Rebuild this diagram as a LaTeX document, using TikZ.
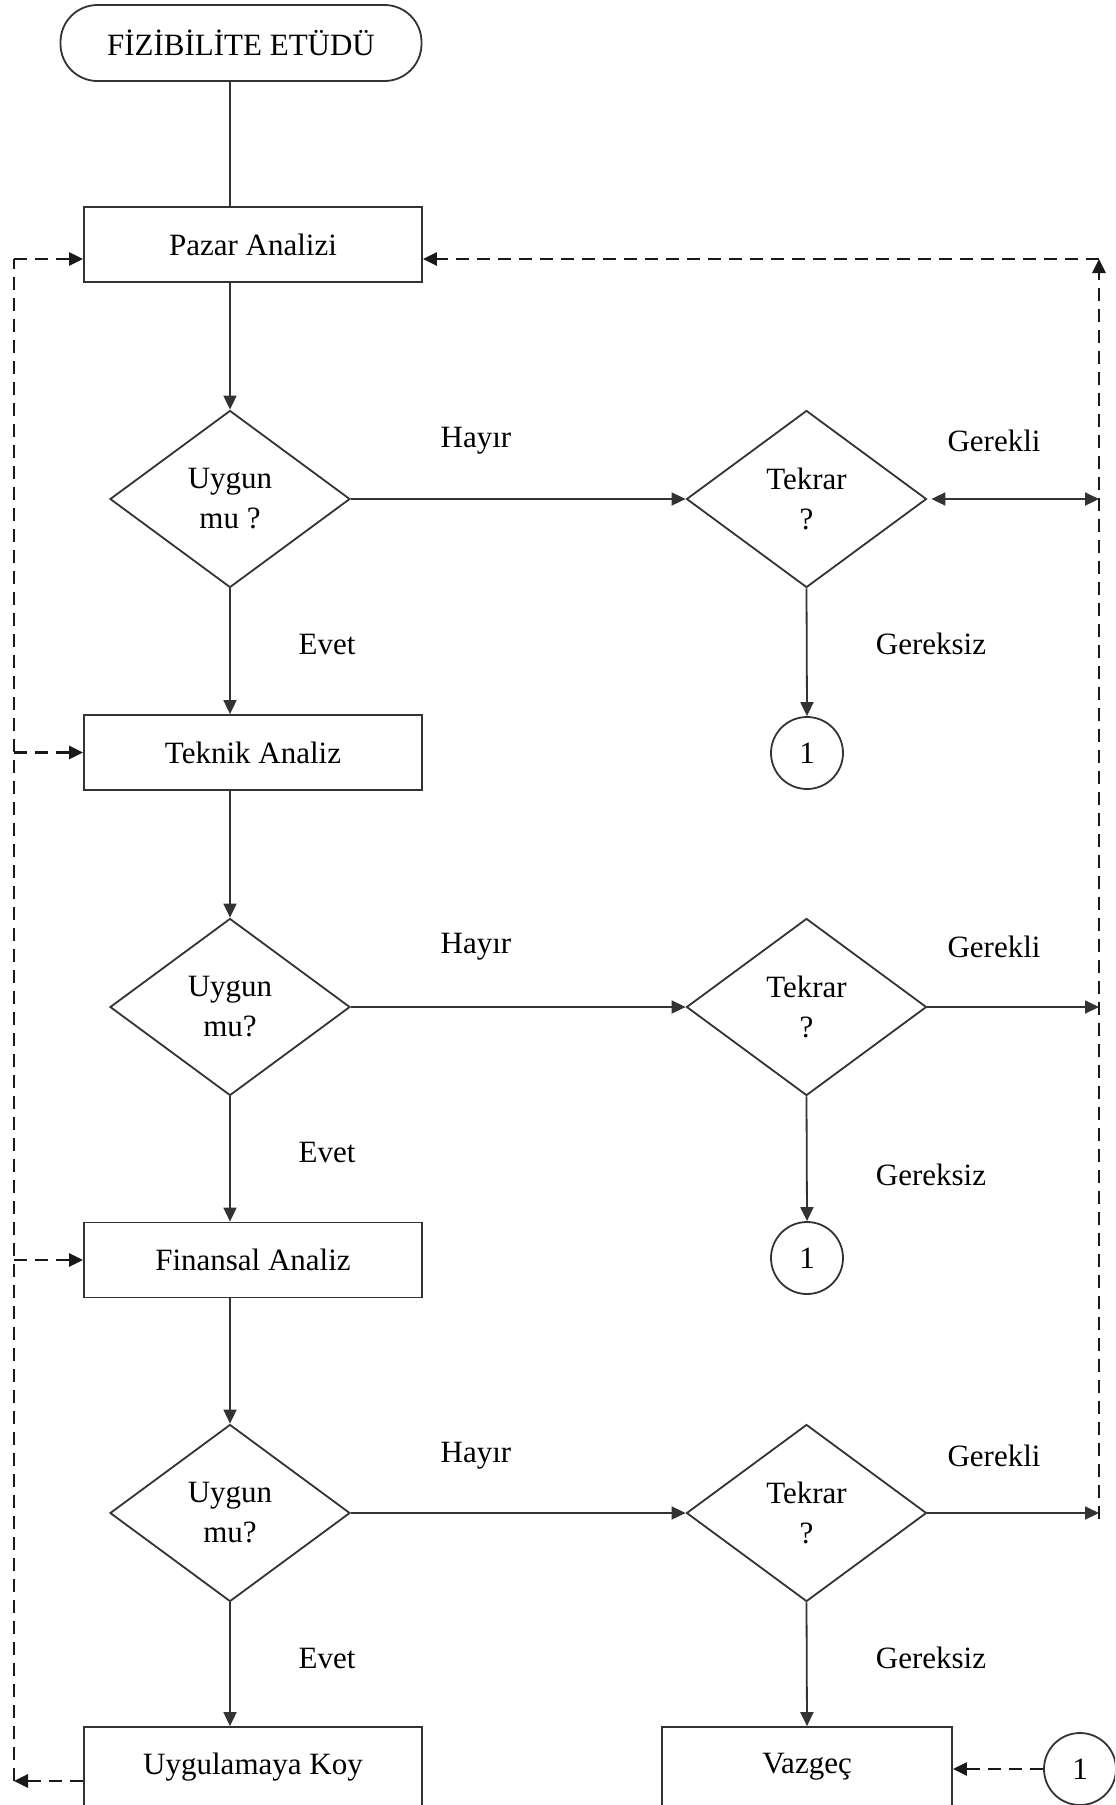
\documentclass[tikz,border=0pt]{standalone}
\usepackage{fontspec}
\setmainfont{Liberation Serif}
\usetikzlibrary{arrows.meta,shapes.geometric}
\definecolor{linec}{gray}{0.2}
\begin{document}
\begin{tikzpicture}[x=0.5pt,y=-0.5pt,
  txt/.style={font=\fontsize{15.5}{20}\selectfont, text=black},
  box/.style={txt, draw=linec, line width=0.9pt, fill=white, minimum width=169pt, minimum height=37.5pt, inner sep=0pt},
  term/.style={txt, draw=linec, line width=0.9pt, rounded corners=18.5pt, minimum width=180.5pt, minimum height=38pt, inner sep=0pt},
  dec/.style={txt, draw=linec, line width=0.9pt, diamond, minimum width=120pt, minimum height=88.5pt, inner sep=0pt, align=center},
  conn/.style={txt, draw=linec, line width=0.9pt, circle, minimum size=36pt, inner sep=0pt},
  lbl/.style={txt, inner sep=1pt},
  arr/.style={draw=linec, line width=0.9pt, -{Triangle[length=7pt,width=6.5pt]}},
  darr/.style={draw=linec, line width=0.9pt, {Triangle[length=7pt,width=6.5pt]}-{Triangle[length=7pt,width=6.5pt]}},
  dline/.style={draw=black!90, line width=1.4pt, dash pattern=on 6.5pt off 4pt},
  dtip/.style={-{Triangle[length=7pt,width=6.5pt]}}
]
\clip (0,0) rectangle (1115,1805);
\fill[white] (0,0) rectangle (1115,1805);

% main column nodes
\node[term] (start) at (241,43) {FİZİBİLİTE ETÜDÜ};
\node[box] (pazar) at (253,244.5) {Pazar Analizi};
\node[dec] (d1) at (230,499) {Uygun\\mu ?};
\node[box] (teknik) at (253,752.5) {Teknik Analiz};
\node[dec] (d2) at (230,1007) {Uygun\\mu?};
\node[box] (finans) at (253,1260) {Finansal Analiz};
\node[dec] (d3) at (230,1513) {Uygun\\mu?};
\node[box, minimum height=40pt] (uyg) at (253,1767) {Uygulamaya Koy};

% right column nodes
\node[dec] (t1) at (806.5,499) {Tekrar\\?};
\node[conn] (c1) at (807,753) {1};
\node[dec] (t2) at (806.5,1007) {Tekrar\\?};
\node[conn] (c2) at (807,1258) {1};
\node[dec] (t3) at (806.5,1513) {Tekrar\\?};
\node[box, minimum width=145pt, minimum height=40pt] (vaz) at (807,1767) {Vazgeç};
\node[conn] (c3) at (1080,1769) {1};

% labels
\node[lbl] (h1) at (476,441) {Hayır};
\node[lbl] (h2) at (476,947) {Hayır};
\node[lbl] (h3) at (476,1456) {Hayır};
\node[lbl] (g1) at (994,441) {Gerekli};
\node[lbl] (g2) at (994,947) {Gerekli};
\node[lbl] (g3) at (994,1456) {Gerekli};
\node[lbl] (e1) at (327,644) {Evet};
\node[lbl] (e2) at (327,1152) {Evet};
\node[lbl] (e3) at (327,1658) {Evet};
\node[lbl] (s1) at (931,644) {Gereksiz};
\node[lbl] (s2) at (931,1175) {Gereksiz};
\node[lbl] (s3) at (931,1658) {Gereksiz};

% coordinates for loops
\coordinate (rtop) at (1099,259);
\coordinate (r1) at (1099,499);
\coordinate (r2) at (1099,1007);
\coordinate (r3) at (1099,1513);
\coordinate (rbot) at (1099,1519);
\coordinate (ltop) at (14,259);
\coordinate (lbot) at (14,1781);

% solid connectors
\draw[draw=linec, line width=0.9pt] (start.south -| d1.north) -- (pazar.north -| d1.north);
\draw[arr] (pazar.south -| d1.north) -- (d1.north);
\draw[arr] (d1.south) -- (teknik.north -| d1.south);
\draw[arr] (teknik.south -| d2.north) -- (d2.north);
\draw[arr] (d2.south) -- (finans.north -| d2.south);
\draw[arr] (finans.south -| d3.north) -- (d3.north);
\draw[arr] (d3.south) -- (uyg.north -| d3.south);

\draw[arr] (d1.east) -- (t1.west);
\draw[arr] (d2.east) -- (t2.west);
\draw[arr] (d3.east) -- (t3.west);

\draw[arr] (t1.south) -- (c1.north);
\draw[arr] (t2.south) -- (c2.north);
\draw[arr] (t3.south) -- (vaz.north);

\draw[darr, shorten <=2pt] (t1.east) -- (r1);
\draw[arr] (t2.east) -- (r2);
\draw[arr] (t3.east) -- (r3);

% dashed loops
\draw[dline, dtip] (rbot) -- (rtop);
\draw[dline, dtip] (rtop) -- (pazar.east |- rtop);
\draw[dline] (lbot) -- (ltop);
\draw[dline, dtip] (ltop) -- (pazar.west |- ltop);
\draw[dline, dtip] (ltop |- teknik.west) -- (teknik.west);
\draw[dline, dtip] (ltop |- finans.west) -- (finans.west);
\draw[dline, dtip] (uyg.west |- lbot) -- (lbot);
\draw[dline, dtip] (c3.west) -- (vaz.east |- c3.west);
\end{tikzpicture}
\end{document}
